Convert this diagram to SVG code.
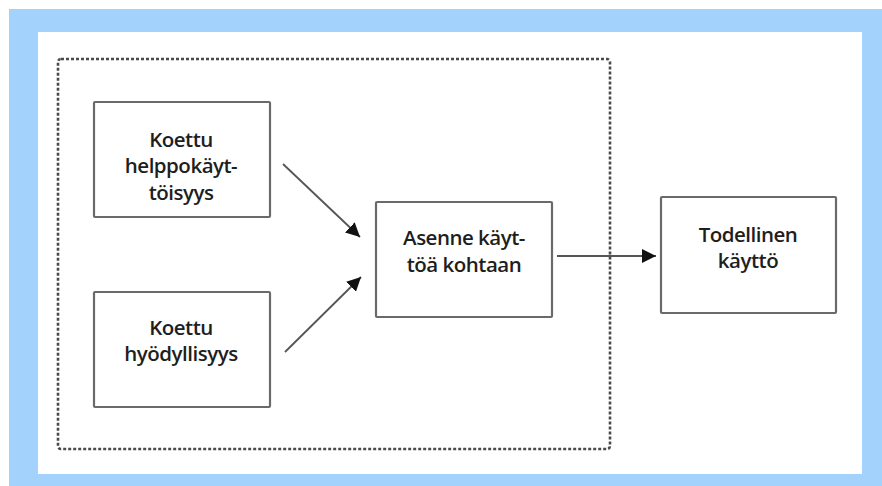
<svg xmlns="http://www.w3.org/2000/svg" width="882" height="486" viewBox="0 0 882 486">
<defs>
<marker id="ah" viewBox="0 0 10 10" refX="10" refY="5" markerWidth="14" markerHeight="14" markerUnits="userSpaceOnUse" orient="auto">
<path d="M0,0 L10,5 L0,10 Z" fill="#111"/>
</marker>
<style>
.box{fill:#fff;stroke:#6a6a6a;stroke-width:2.2}
.t{font-family:"Open Sans","Noto Sans",sans-serif;font-size:20.5px;font-weight:600;letter-spacing:-0.5px;fill:#1e1e1e;text-anchor:middle}
.c{stroke:#555;stroke-width:1.8;fill:none;marker-end:url(#ah)}
</style>
</defs>
<rect x="0" y="0" width="882" height="486" fill="#fff"/>
<rect x="9" y="9" width="873" height="477" fill="#a3d3fd"/>
<rect x="38" y="32" width="824" height="442" fill="#fff"/>
<rect id="group" x="58" y="59" width="552" height="390" rx="3" fill="none" stroke="#4a4a4a" stroke-width="2.6" stroke-dasharray="3 2"/>
<g id="n1">
<rect class="box" x="94" y="102" width="176" height="115" rx="1"/>
<text class="t" x="181" y="147">Koettu</text>
<text class="t" x="181" y="173">helppokäyt-</text>
<text class="t" x="181" y="200">töisyys</text>
</g>
<g id="n2">
<rect class="box" x="94" y="292" width="176" height="115" rx="1"/>
<text class="t" x="181" y="335">Koettu</text>
<text class="t" x="181" y="361">hyödyllisyys</text>
</g>
<g id="n3">
<rect class="box" x="376" y="202" width="176" height="115" rx="1"/>
<text class="t" x="464" y="245">Asenne käyt-</text>
<text class="t" x="464" y="272">töä kohtaan</text>
</g>
<g id="n4">
<rect class="box" x="661" y="197" width="175" height="116" rx="1"/>
<text class="t" x="748" y="242">Todellinen</text>
<text class="t" x="748" y="268">käyttö</text>
</g>
<g id="connectors">
<line class="c" x1="283" y1="164" x2="360" y2="237"/>
<line class="c" x1="285" y1="352" x2="361" y2="277"/>
<line class="c" x1="557" y1="256" x2="656" y2="256"/>
</g>
</svg>
